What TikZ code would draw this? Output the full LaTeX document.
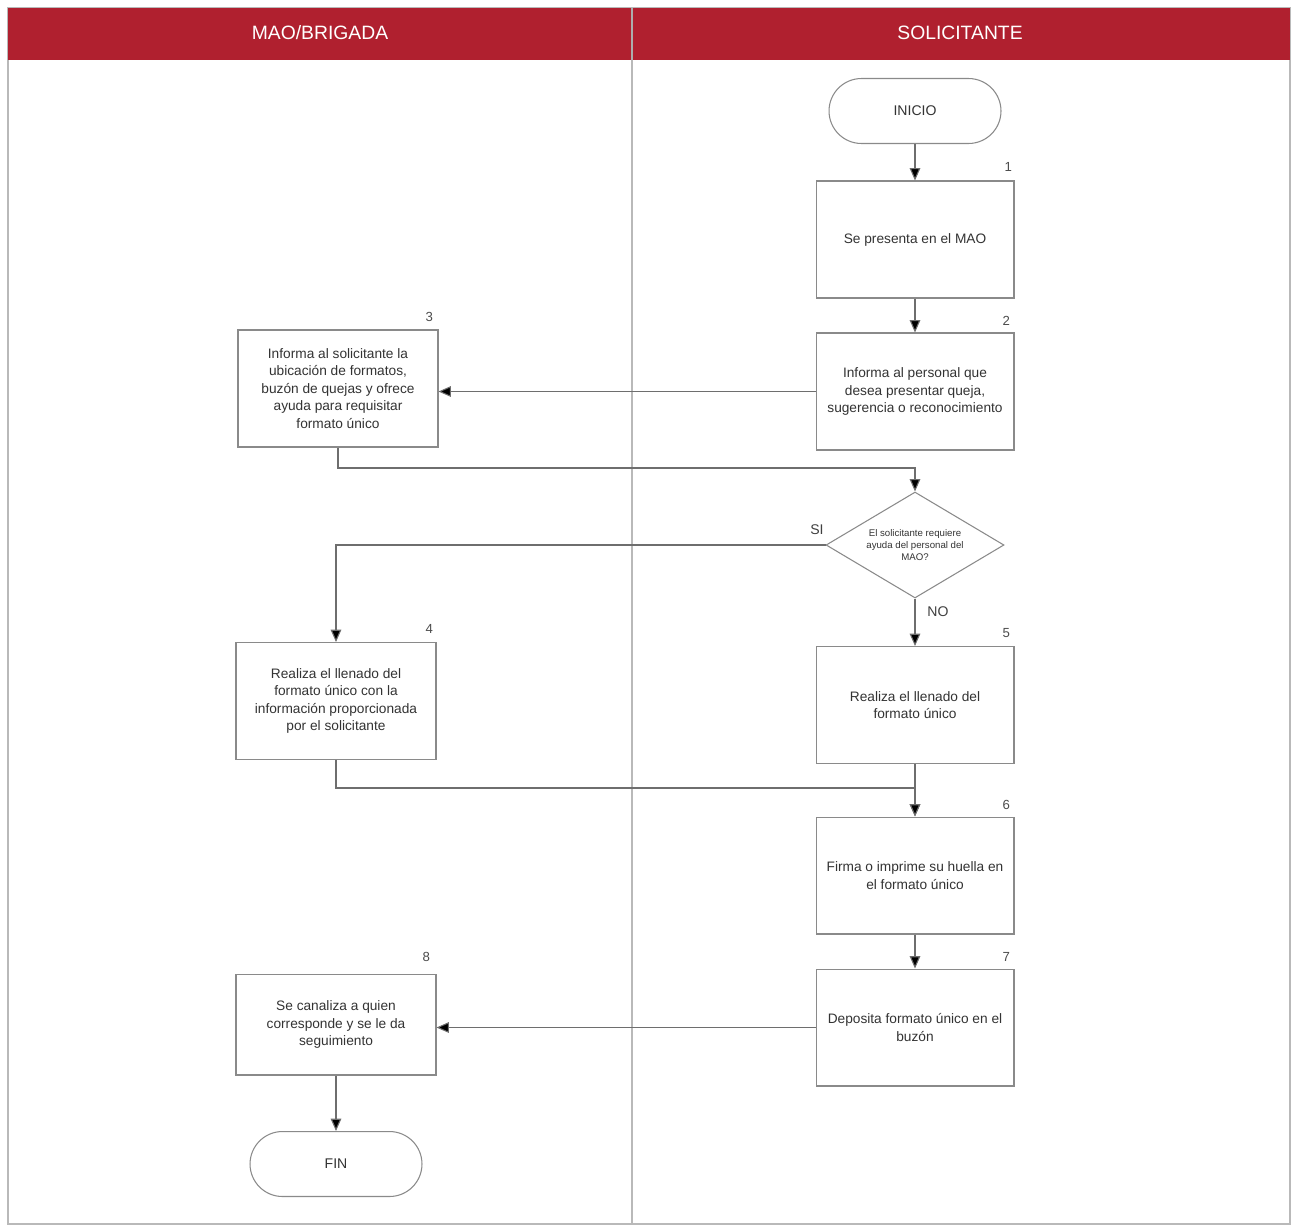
\documentclass[tikz,border=0pt]{standalone}
\usepackage{fontspec}
\setmainfont{Liberation Sans}
\usetikzlibrary{shapes.geometric,arrows.meta}
\definecolor{hdr}{HTML}{B0202F}
\definecolor{ln}{HTML}{8A8A8A}
\begin{document}
\begin{tikzpicture}[x=0.02cm,y=-0.02cm,
  proc/.style={draw=ln,line width=0.6pt,minimum width=3.96cm,minimum height=2.34cm,align=center,font=\fontsize{7.8}{10}\selectfont,inner sep=2pt,text=black!80},
  term/.style={draw=ln,line width=0.6pt,minimum width=3.44cm,minimum height=1.3cm,rounded corners=0.65cm,font=\fontsize{8}{10}\selectfont,text=black!80},
  num/.style={font=\fontsize{7.5}{9}\selectfont,text=black!70,inner sep=1pt},
  arr/.style={draw=ln!80!black,line width=0.6pt,-{Triangle[length=7pt,width=6pt,fill=black]}},
  lab/.style={font=\fontsize{8}{10}\selectfont,text=black!75,inner sep=1pt}]
\useasboundingbox (0,0) rectangle (1297,1224);
\fill[white] (0,0) rectangle (1297,1224);
% lanes
\draw[ln!60,line width=0.6pt] (8,8) rectangle (1290,1224);
\draw[ln!60,line width=0.6pt] (632,8) -- (632,1224);
\fill[hdr] (8,8) rectangle (1290,60);
\draw[ln!70,line width=0.6pt] (632,8) -- (632,60);
\node[text=white,font=\fontsize{11}{13}\selectfont] (h1) at (320,33) {MAO/BRIGADA};
\node[text=white,font=\fontsize{11}{13}\selectfont] (h2) at (960,33) {SOLICITANTE};
% nodes
\node[term] (ini) at (915,111) {INICIO};
\node[proc] (b1) at (915,239.5) {Se presenta en el MAO};
\node[num,anchor=south east] at (1014,174) {1};
\node[proc] (b2) at (915,391.5) {Informa al personal que\\ desea presentar queja,\\ sugerencia o reconocimiento};
\node[num,anchor=south east] at (1012,328) {2};
\node[proc,minimum width=4cm] (b3) at (338,388.5) {Informa al solicitante la\\ ubicación de formatos,\\ buzón de quejas y ofrece\\ ayuda para requisitar\\ formato único};
\node[num,anchor=south east] at (435,324) {3};
\node[diamond,draw=ln,line width=0.6pt,minimum width=3.56cm,minimum height=2.12cm,inner sep=0pt,
  label={[font=\fontsize{5.5}{7}\selectfont,align=center,text=black!80]center:El solicitante requiere\\ ayuda del personal del\\ MAO?}] (dia) at (915,545) {};
\node[proc,minimum width=4cm] (b4) at (336,701) {Realiza el llenado del\\ formato único con la\\ información proporcionada\\ por el solicitante};
\node[num,anchor=south east] at (435,636) {4};
\node[proc] (b5) at (915,705) {Realiza el llenado del\\ formato único};
\node[num,anchor=south east] at (1012,640) {5};
\node[proc] (b6) at (915,875.5) {Firma o imprime su huella en\\ el formato único};
\node[num,anchor=south east] at (1012,812) {6};
\node[proc] (b7) at (915,1027.5) {Deposita formato único en el\\ buzón};
\node[num,anchor=south east] at (1012,964) {7};
\node[proc,minimum width=4cm,minimum height=2.02cm] (b8) at (336,1024.5) {Se canaliza a quien\\ corresponde y se le da\\ seguimiento};
\node[num,anchor=south east] at (432,964) {8};
\node[term] (fin) at (336,1164) {FIN};
% connectors
\draw[arr] (ini) -- (b1);
\draw[arr] (b1) -- (b2);
\draw[arr] (b2.west) -- (b2.west -| b3.east);
\coordinate (j1) at (338,468);
\draw[arr] (b3.south) -- (j1) -| (dia.north);
\draw[arr] (dia.west) -| (b4.north);
\node[lab] (si) at (817,530) {SI};
\draw[arr] (dia.south) -- (b5.north);
\node[lab] (no) at (938,612) {NO};
\coordinate (j2) at (336,788);
\draw[arr] (b4.south) -- (j2) -| (b6.north);
\draw[arr] (b5) -- (b6);
\draw[arr] (b6) -- (b7);
\draw[arr] (b7.west) -- (b7.west -| b8.east);
\draw[arr] (b8) -- (fin);
\end{tikzpicture}
\end{document}
